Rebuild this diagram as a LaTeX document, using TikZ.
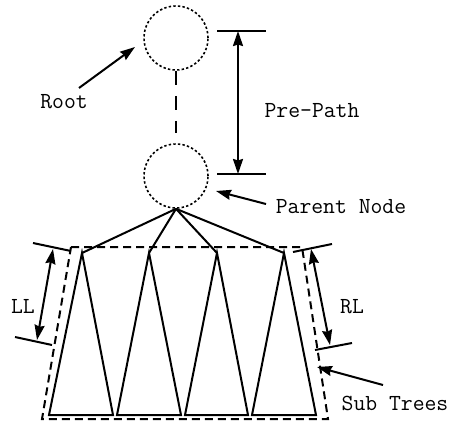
\documentclass[tikz,border=0pt]{standalone}
\usetikzlibrary{arrows.meta}

\begin{document}
\begin{tikzpicture}[x=1pt, y=-1pt,
    tree node/.style={circle, draw, dash pattern=on 2.4pt off 2.2pt, line width=1.6pt, minimum size=64pt, inner sep=0pt},
    label text/.style={font=\ttfamily\fontsize{23}{27}\selectfont, anchor=base, inner sep=0pt},
    box line/.style={dash pattern=on 8pt off 5pt},
    every path/.style={line width=2pt},
  ]
\tikzset{>={Stealth[length=15pt, width=10pt, inset=1.5pt]}}
  \useasboundingbox (0,0) rectangle (449,423);

  % root and parent of the path
  \node[tree node] (root)   at (176,38)  {};
  \node[tree node] (parent) at (176,176) {};
  \draw[dash pattern=on 14pt off 11pt, shorten >=10pt] (root) -- (parent);

  % length of the path
  \coordinate (pp1) at (217,31);  \coordinate (pp2) at (266,31);
  \coordinate (pp3) at (217,174); \coordinate (pp4) at (266,174);
  \coordinate (ppa) at (238,31);  \coordinate (ppb) at (238,174);
  \draw (pp1) -- (pp2);
  \draw (pp3) -- (pp4);
  \draw[<->] (ppa) -- (ppb);
  \node[label text] (prepath) at (312,117) {Pre-Path};

  % labels with arrows
  \node[label text] (rootlabel) at (64,108) {Root};
  \coordinate (ra) at (79,88);   \coordinate (rb) at (135,47);
  \draw[->] (ra) -- (rb);

  \node[label text] (parentlabel) at (341,213) {Parent Node};
  \coordinate (pa) at (266,204); \coordinate (pb) at (216,191);
  \draw[->] (pa) -- (pb);

  % the sub trees
  \foreach \i/\tx/\bl/\br in {1/82/49/113, 2/149/117/181, 3/217/185/248, 4/284/252/316}{
    \coordinate (t\i) at (\tx,253);
    \coordinate (l\i) at (\bl,415);
    \coordinate (r\i) at (\br,415);
    \draw (parent.south) -- (t\i);
    \draw (t\i) -- (l\i) -- (r\i) -- cycle;
  }

  % box round the sub trees
  \coordinate (b1) at (71,247);  \coordinate (b2) at (302,247);
  \coordinate (b3) at (328,419); \coordinate (b4) at (42,419);
  \draw[box line] (b1) -- (b2) -- (b3) -- (b4) -- cycle;

  % left length
  \coordinate (ll1) at (33,243); \coordinate (ll2) at (71,251);
  \coordinate (ll3) at (15,337); \coordinate (ll4) at (52,345);
  \draw (ll1) -- (ll2);
  \draw (ll3) -- (ll4);
  \coordinate (lla) at (53,249); \coordinate (llb) at (37,340);
  \draw[<->] (lla) -- (llb);
  \node[label text] (ll) at (23,313) {LL};

  % right length
  \coordinate (rl1) at (293,252); \coordinate (rl2) at (332,244);
  \coordinate (rl3) at (315,350); \coordinate (rl4) at (352,343);
  \draw (rl1) -- (rl2);
  \draw (rl3) -- (rl4);
  \coordinate (rla) at (311,249); \coordinate (rlb) at (330,345);
  \draw[<->] (rla) -- (rlb);
  \node[label text] (rl) at (352,313) {RL};

  \node[label text] (subtrees) at (395,410) {Sub Trees};
  \coordinate (sa) at (383,385); \coordinate (sb) at (317,367);
  \draw[->] (sa) -- (sb);

\end{tikzpicture}
\end{document}
